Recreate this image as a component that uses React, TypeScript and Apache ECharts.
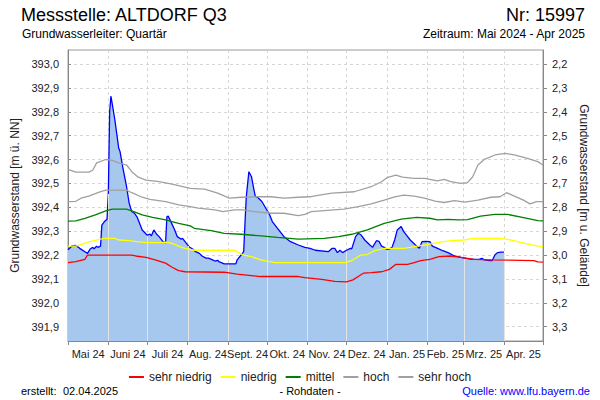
import React, { useEffect, useRef } from 'react';
import * as echarts from 'echarts';

const FONT = '"Liberation Sans", Arial, Helvetica, sans-serif';

// ---- axis / tick data ----
const monthStarts = [
  '2024-05-01', '2024-06-01', '2024-07-01', '2024-08-01', '2024-09-01', '2024-10-01',
  '2024-11-01', '2024-12-01', '2025-01-01', '2025-02-01', '2025-03-01', '2025-04-01', '2025-05-01',
];
const monthLabels = [
  'Mai 24', 'Juni 24', 'Juli 24', 'Aug. 24', 'Sept. 24', 'Okt. 24',
  'Nov. 24', 'Dez. 24', 'Jan. 25', 'Feb. 25', 'Mrz. 25', 'Apr. 25',
];
const leftTicks = [391.9, 392.0, 392.1, 392.2, 392.3, 392.4, 392.5, 392.6, 392.7, 392.8, 392.9, 393.0];
const rightTicks = [2.2, 2.3, 2.4, 2.5, 2.6, 2.7, 2.8, 2.9, 3.0, 3.1, 3.2, 3.3];
const GROUND = 395.2; // m ü. NN  (depth = GROUND - level)
const Y_MIN = 391.84;
const Y_MAX = 393.0586;

// ---- series data (date, m ü. NN) ----
const measured: [string, number][] = [
  ['2024-05-01', 392.222], ['2024-05-04', 392.238], ['2024-05-07', 392.24], ['2024-05-10', 392.228],
  ['2024-05-14', 392.214], ['2024-05-16', 392.207], ['2024-05-18', 392.225], ['2024-05-20', 392.232],
  ['2024-05-21', 392.226], ['2024-05-23', 392.237], ['2024-05-24', 392.232], ['2024-05-26', 392.237],
  ['2024-05-27', 392.325], ['2024-05-29', 392.34], ['2024-05-31', 392.35], ['2024-06-01', 392.46],
  ['2024-06-02', 392.8], ['2024-06-03', 392.866], ['2024-06-06', 392.766], ['2024-06-09', 392.647],
  ['2024-06-10', 392.633], ['2024-06-12', 392.57], ['2024-06-15', 392.486], ['2024-06-17', 392.417],
  ['2024-06-19', 392.382], ['2024-06-21', 392.375], ['2024-06-23', 392.36], ['2024-06-25', 392.333],
  ['2024-06-27', 392.305], ['2024-06-30', 392.288], ['2024-07-01', 392.283], ['2024-07-03', 392.288],
  ['2024-07-04', 392.28], ['2024-07-06', 392.305], ['2024-07-08', 392.288], ['2024-07-10', 392.277],
  ['2024-07-13', 392.256], ['2024-07-15', 392.252], ['2024-07-16', 392.36], ['2024-07-17', 392.363],
  ['2024-07-19', 392.34], ['2024-07-22', 392.305], ['2024-07-24', 392.277], ['2024-07-27', 392.266],
  ['2024-07-28', 392.27], ['2024-07-31', 392.249], ['2024-08-02', 392.235], ['2024-08-05', 392.224],
  ['2024-08-07', 392.214], ['2024-08-10', 392.207], ['2024-08-12', 392.196], ['2024-08-15', 392.187],
  ['2024-08-17', 392.187], ['2024-08-20', 392.18], ['2024-08-22', 392.175], ['2024-08-24', 392.178],
  ['2024-08-25', 392.172], ['2024-08-29', 392.163], ['2024-09-07', 392.163], ['2024-09-08', 392.18],
  ['2024-09-11', 392.2], ['2024-09-13', 392.214], ['2024-09-14', 392.333], ['2024-09-15', 392.444],
  ['2024-09-17', 392.549], ['2024-09-19', 392.528], ['2024-09-21', 392.47], ['2024-09-22', 392.445],
  ['2024-09-24', 392.44], ['2024-09-27', 392.424], ['2024-09-30', 392.396], ['2024-10-03', 392.368],
  ['2024-10-05', 392.34], ['2024-10-09', 392.312], ['2024-10-14', 392.277], ['2024-10-19', 392.256],
  ['2024-10-25', 392.242], ['2024-10-30', 392.232], ['2024-11-03', 392.228], ['2024-11-07', 392.22],
  ['2024-11-17', 392.214], ['2024-11-20', 392.228], ['2024-11-22', 392.228], ['2024-11-24', 392.21],
  ['2024-11-26', 392.22], ['2024-11-28', 392.21], ['2024-12-01', 392.22], ['2024-12-04', 392.228],
  ['2024-12-05', 392.226], ['2024-12-08', 392.277], ['2024-12-10', 392.291], ['2024-12-12', 392.285],
  ['2024-12-15', 392.263], ['2024-12-19', 392.242], ['2024-12-21', 392.232], ['2024-12-24', 392.26],
  ['2024-12-26', 392.257], ['2024-12-28', 392.237], ['2024-12-30', 392.232], ['2025-01-01', 392.224],
  ['2025-01-03', 392.226], ['2025-01-05', 392.232], ['2025-01-07', 392.263], ['2025-01-09', 392.305],
  ['2025-01-12', 392.319], ['2025-01-14', 392.298], ['2025-01-17', 392.277], ['2025-01-19', 392.263],
  ['2025-01-23', 392.242], ['2025-01-26', 392.228], ['2025-01-28', 392.256], ['2025-01-31', 392.257],
  ['2025-02-03', 392.256], ['2025-02-05', 392.237], ['2025-02-09', 392.228], ['2025-02-13', 392.218],
  ['2025-02-17', 392.21], ['2025-02-22', 392.196], ['2025-02-27', 392.19], ['2025-03-03', 392.186],
  ['2025-03-08', 392.182], ['2025-03-13', 392.182], ['2025-03-15', 392.186], ['2025-03-17', 392.18],
  ['2025-03-21', 392.177], ['2025-03-23', 392.177], ['2025-03-25', 392.2], ['2025-03-27', 392.21],
  ['2025-03-30', 392.212], ['2025-04-01', 392.212],
];

const sehrNiedrig: [string, number][] = [
  ['2024-05-01', 392.168], ['2024-05-07', 392.172], ['2024-05-14', 392.182], ['2024-05-16', 392.2],
  ['2024-06-19', 392.2], ['2024-06-22', 392.196], ['2024-06-30', 392.19], ['2024-07-07', 392.18],
  ['2024-07-15', 392.166], ['2024-07-20', 392.149], ['2024-07-25', 392.135], ['2024-07-30', 392.13],
  ['2024-08-29', 392.128], ['2024-09-08', 392.12], ['2024-09-19', 392.114], ['2024-09-26', 392.11],
  ['2024-10-25', 392.11], ['2024-10-30', 392.105], ['2024-11-12', 392.098], ['2024-11-22', 392.09],
  ['2024-12-01', 392.088], ['2024-12-06', 392.096], ['2024-12-10', 392.11], ['2024-12-14', 392.124],
  ['2024-12-20', 392.126], ['2024-12-28', 392.13], ['2025-01-03', 392.14], ['2025-01-08', 392.161],
  ['2025-01-17', 392.161], ['2025-01-22', 392.168], ['2025-01-27', 392.177], ['2025-02-03', 392.182],
  ['2025-02-10', 392.193], ['2025-02-19', 392.196], ['2025-02-27', 392.19], ['2025-03-09', 392.182],
  ['2025-03-22', 392.18], ['2025-04-24', 392.177], ['2025-04-27', 392.171], ['2025-05-01', 392.17],
];

const niedrig: [string, number][] = [
  ['2024-05-01', 392.237], ['2024-05-07', 392.237], ['2024-05-12', 392.246], ['2024-05-18', 392.256],
  ['2024-05-25', 392.266], ['2024-05-29', 392.27], ['2024-06-06', 392.27], ['2024-06-09', 392.263],
  ['2024-06-17', 392.26], ['2024-06-23', 392.256], ['2024-06-30', 392.252], ['2024-07-10', 392.252],
  ['2024-07-15', 392.254], ['2024-07-20', 392.249], ['2024-07-26', 392.235], ['2024-07-30', 392.228],
  ['2024-08-06', 392.22], ['2024-09-06', 392.22], ['2024-09-10', 392.207], ['2024-09-13', 392.2],
  ['2024-09-19', 392.193], ['2024-09-26', 392.18], ['2024-10-07', 392.168], ['2024-12-01', 392.168],
  ['2024-12-06', 392.18], ['2024-12-12', 392.2], ['2024-12-17', 392.202], ['2024-12-22', 392.217],
  ['2024-12-30', 392.228], ['2025-01-14', 392.228], ['2025-01-19', 392.232], ['2025-01-24', 392.237],
  ['2025-01-30', 392.242], ['2025-02-03', 392.246], ['2025-02-09', 392.252], ['2025-02-19', 392.26],
  ['2025-03-02', 392.263], ['2025-03-08', 392.27], ['2025-03-30', 392.27], ['2025-04-06', 392.263],
  ['2025-04-17', 392.249], ['2025-04-27', 392.237], ['2025-05-01', 392.236],
];

const mittel: [string, number][] = [
  ['2024-05-01', 392.342], ['2024-05-07', 392.343], ['2024-05-14', 392.354], ['2024-05-22', 392.368],
  ['2024-05-30', 392.385], ['2024-06-04', 392.392], ['2024-06-15', 392.392], ['2024-06-19', 392.385],
  ['2024-06-27', 392.368], ['2024-07-05', 392.358], ['2024-07-15', 392.347], ['2024-07-25', 392.333],
  ['2024-08-03', 392.322], ['2024-08-06', 392.312], ['2024-08-19', 392.302], ['2024-08-29', 392.291],
  ['2024-09-11', 392.287], ['2024-09-24', 392.281], ['2024-10-09', 392.274], ['2024-10-25', 392.267],
  ['2024-11-14', 392.27], ['2024-11-25', 392.277], ['2024-12-05', 392.287], ['2024-12-17', 392.305],
  ['2024-12-30', 392.333], ['2025-01-12', 392.35], ['2025-01-24', 392.358], ['2025-02-03', 392.354],
  ['2025-02-09', 392.347], ['2025-02-17', 392.349], ['2025-02-25', 392.347], ['2025-03-04', 392.348],
  ['2025-03-14', 392.363], ['2025-03-25', 392.37], ['2025-04-04', 392.37], ['2025-04-17', 392.356],
  ['2025-04-27', 392.344], ['2025-05-01', 392.343],
];

const hoch: [string, number][] = [
  ['2024-05-01', 392.424], ['2024-05-07', 392.425], ['2024-05-11', 392.438], ['2024-05-17', 392.447],
  ['2024-05-25', 392.463], ['2024-05-30', 392.472], ['2024-06-15', 392.472], ['2024-06-19', 392.461],
  ['2024-06-27', 392.442], ['2024-07-03', 392.433], ['2024-07-15', 392.424], ['2024-07-25', 392.41],
  ['2024-08-03', 392.403], ['2024-08-09', 392.396], ['2024-08-22', 392.389], ['2024-08-28', 392.382],
  ['2024-09-06', 392.389], ['2024-09-13', 392.389], ['2024-09-21', 392.382], ['2024-10-04', 392.375],
  ['2024-10-14', 392.375], ['2024-10-25', 392.365], ['2024-10-30', 392.37], ['2024-11-04', 392.382],
  ['2024-11-14', 392.386], ['2024-11-29', 392.392], ['2024-12-10', 392.403], ['2024-12-20', 392.414],
  ['2024-12-30', 392.43], ['2025-01-07', 392.444], ['2025-01-14', 392.451], ['2025-01-22', 392.447],
  ['2025-01-30', 392.438], ['2025-02-07', 392.426], ['2025-02-14', 392.42], ['2025-02-22', 392.428],
  ['2025-03-02', 392.422], ['2025-03-12', 392.43], ['2025-03-22', 392.442], ['2025-03-29', 392.444],
  ['2025-04-03', 392.461], ['2025-04-09', 392.447], ['2025-04-16', 392.43], ['2025-04-21', 392.414],
  ['2025-04-26', 392.424], ['2025-05-01', 392.424],
];

const sehrHoch: [string, number][] = [
  ['2024-05-01', 392.559], ['2024-05-07', 392.547], ['2024-05-17', 392.547], ['2024-05-20', 392.555],
  ['2024-05-23', 392.586], ['2024-05-30', 392.6], ['2024-06-04', 392.596], ['2024-06-09', 392.586],
  ['2024-06-15', 392.577], ['2024-06-19', 392.549], ['2024-06-24', 392.526], ['2024-06-30', 392.514],
  ['2024-07-10', 392.507], ['2024-07-20', 392.497], ['2024-08-03', 392.479], ['2024-08-14', 392.476],
  ['2024-08-24', 392.459], ['2024-09-02', 392.438], ['2024-09-11', 392.442], ['2024-09-24', 392.444],
  ['2024-10-04', 392.444], ['2024-10-14', 392.438], ['2024-10-25', 392.442], ['2024-11-03', 392.444],
  ['2024-11-10', 392.451], ['2024-11-20', 392.459], ['2024-12-07', 392.465], ['2024-12-20', 392.486],
  ['2024-12-28', 392.507], ['2025-01-01', 392.524], ['2025-01-08', 392.535], ['2025-01-13', 392.526],
  ['2025-01-22', 392.521], ['2025-01-30', 392.521], ['2025-02-09', 392.511], ['2025-02-14', 392.517],
  ['2025-02-19', 392.507], ['2025-02-27', 392.5], ['2025-03-04', 392.503], ['2025-03-08', 392.528],
  ['2025-03-12', 392.577], ['2025-03-17', 392.601], ['2025-03-25', 392.619], ['2025-04-02', 392.626],
  ['2025-04-09', 392.619], ['2025-04-19', 392.605], ['2025-04-27', 392.591], ['2025-05-01', 392.577],
];

// ---- helpers ----
const ts = (s: string) => new Date(s + 'T00:00:00').getTime();
const toSeries = (arr: [string, number][]) => arr.map(([d, v]) => [ts(d), v]);
const fmtComma = (v: number) => v.toFixed(1).replace('.', ',');

const measuredTs = toSeries(measured);
const levelAt = (t: number) => {
  for (let i = 1; i < measuredTs.length; i++) {
    const [t0, v0] = measuredTs[i - 1];
    const [t1, v1] = measuredTs[i];
    if (t >= t0 && t <= t1) return v0 + ((v1 - v0) * (t - t0)) / (t1 - t0);
  }
  return null;
};

const monthTs = monthStarts.map(ts);
const midMonths = monthTs.slice(0, -1).map((t, i) => (t + monthTs[i + 1]) / 2);
const lastMeasured = measuredTs[measuredTs.length - 1][0];
const innerMonthLines = monthTs.filter((t) => t > monthTs[0] && t <= lastMeasured).map((t) => [t, 0]);

const refLine = (name: string, data: [string, number][], color: string) => ({
  name,
  type: 'line',
  data: toSeries(data),
  symbol: 'none',
  showSymbol: false,
  silent: true,
  lineStyle: { color, width: 1.3 },
  itemStyle: { color },
  z: 4,
});

const option: any = {
  animation: false,
  textStyle: { fontFamily: FONT },
  grid: {
    left: 68, right: 57, top: 50, bottom: 59,
    show: true, borderColor: '#9a9a9a', borderWidth: 1, backgroundColor: 'transparent',
  },
  legend: {
    top: 366,
    left: 'center',
    icon: 'rect',
    itemWidth: 15,
    itemHeight: 2,
    itemGap: 9,
    selectedMode: false,
    textStyle: { fontFamily: FONT, fontSize: 12, color: '#222' },
    data: ['sehr niedrig', 'niedrig', 'mittel', 'hoch', 'sehr hoch'],
  },
  xAxis: {
    type: 'value',
    min: monthTs[0],
    max: monthTs[monthTs.length - 1],
    axisLine: { show: true, onZero: false, lineStyle: { color: '#888', width: 1 } },
    axisTick: { show: true, inside: false, length: 4, customValues: monthTs, lineStyle: { color: '#888' } },
    axisLabel: {
      customValues: midMonths,
      hideOverlap: false,
      margin: 7,
      fontSize: 11,
      color: '#222',
      fontFamily: FONT,
      formatter: (val: number) => {
        const d = new Date(val);
        const idx = (d.getFullYear() - 2024) * 12 + d.getMonth() - 4;
        return monthLabels[idx] ?? '';
      },
    },
    splitLine: { show: true, lineStyle: { color: '#d6d6d6', type: [3, 3], width: 1 } },
  },
  yAxis: [
    {
      type: 'value',
      position: 'left',
      min: Y_MIN,
      max: Y_MAX,
      name: 'Grundwasserstand [m ü. NN]',
      nameLocation: 'middle',
      nameGap: 39,
      nameRotate: 90,
      nameTextStyle: { fontFamily: FONT, fontSize: 12, color: '#222' },
      axisLine: { show: true, onZero: false, lineStyle: { color: '#888', width: 1 } },
      axisTick: { show: true, inside: true, length: 3, customValues: leftTicks, lineStyle: { color: '#888' } },
      axisLabel: {
        customValues: leftTicks,
        formatter: (v: number) => fmtComma(v),
        fontSize: 11,
        color: '#222',
        margin: 9,
        fontFamily: FONT,
      },
      splitLine: { show: true, lineStyle: { color: '#d6d6d6', type: [3, 3], width: 1 } },
    },
    {
      type: 'value',
      position: 'right',
      inverse: true,
      min: GROUND - Y_MAX,
      max: GROUND - Y_MIN,
      name: 'Grundwasserstand [m u. Gelände]',
      nameLocation: 'middle',
      nameGap: 27,
      nameRotate: -90,
      nameTextStyle: { fontFamily: FONT, fontSize: 12, color: '#222' },
      axisLine: { show: true, onZero: false, lineStyle: { color: '#888', width: 1 } },
      axisTick: { show: true, inside: false, length: 4, customValues: rightTicks, lineStyle: { color: '#888' } },
      axisLabel: {
        customValues: rightTicks,
        formatter: (v: number) => fmtComma(v),
        fontSize: 11,
        color: '#222',
        margin: 9,
        fontFamily: FONT,
      },
      splitLine: { show: false },
    },
  ],
  series: [
    {
      name: 'Messwert',
      type: 'line',
      data: measuredTs,
      symbol: 'none',
      showSymbol: false,
      silent: true,
      lineStyle: { color: '#0000ff', width: 1.3 },
      itemStyle: { color: '#0000ff' },
      areaStyle: { color: '#a6c8ef', opacity: 1, origin: 'start' },
      z: 2,
    },
    {
      name: 'Monatslinien',
      type: 'custom',
      data: innerMonthLines,
      silent: true,
      z: 3,
      renderItem: (params: any, api: any) => {
        const t = api.value(0);
        const v = levelAt(t);
        if (v == null) return null;
        const top = api.coord([t, v]);
        const cs = params.coordSys;
        const x = Math.round(top[0]) + 0.5;
        return {
          type: 'line',
          shape: { x1: x, y1: top[1] + 1, x2: x, y2: cs.y + cs.height },
          style: { stroke: '#e4e4e4', lineWidth: 1 },
        };
      },
    },
    refLine('sehr niedrig', sehrNiedrig, '#ff0000'),
    refLine('niedrig', niedrig, '#ffff00'),
    refLine('mittel', mittel, '#008000'),
    refLine('hoch', hoch, '#a0a0a0'),
    refLine('sehr hoch', sehrHoch, '#a0a0a0'),
  ],
  graphic: [
    { type: 'text', x: 21, y: 15, style: { text: 'Messstelle: ALTDORF Q3', fontSize: 18, fontFamily: FONT, fill: '#000', align: 'left', verticalAlign: 'middle' } },
    { type: 'text', x: 585, y: 15, style: { text: 'Nr: 15997', fontSize: 18, fontFamily: FONT, fill: '#000', align: 'right', verticalAlign: 'middle' } },
    { type: 'text', x: 22, y: 34, style: { text: 'Grundwasserleiter: Quartär', fontSize: 12, fontFamily: FONT, fill: '#000', align: 'left', verticalAlign: 'middle' } },
    { type: 'text', x: 585, y: 34, style: { text: 'Zeitraum: Mai 2024 - Apr 2025', fontSize: 12, fontFamily: FONT, fill: '#000', align: 'right', verticalAlign: 'middle' } },
    { type: 'text', x: 21, y: 391, style: { text: 'erstellt:', fontSize: 11, fontFamily: FONT, fill: '#000', align: 'left', verticalAlign: 'middle' } },
    { type: 'text', x: 63, y: 391, style: { text: '02.04.2025', fontSize: 11, fontFamily: FONT, fill: '#000', align: 'left', verticalAlign: 'middle' } },
    { type: 'text', x: 310, y: 391, style: { text: '- Rohdaten -', fontSize: 11, fontFamily: FONT, fill: '#000', align: 'center', verticalAlign: 'middle' } },
    { type: 'text', x: 590, y: 391, style: { text: 'Quelle: www.lfu.bayern.de', fontSize: 11, fontFamily: FONT, fill: '#0000ff', align: 'right', verticalAlign: 'middle' } },
  ],
};

export default function App() {
  const ref = useRef<HTMLDivElement>(null);
  useEffect(() => {
    if (!ref.current) return;
    const chart = echarts.init(ref.current, null, { renderer: 'svg' });
    chart.setOption(option);
    return () => chart.dispose();
  }, []);
  return (
    <div
      ref={ref}
      style={{ position: 'absolute', left: 0, top: 0, width: 600, height: 400, background: '#fff' }}
    />
  );
}
